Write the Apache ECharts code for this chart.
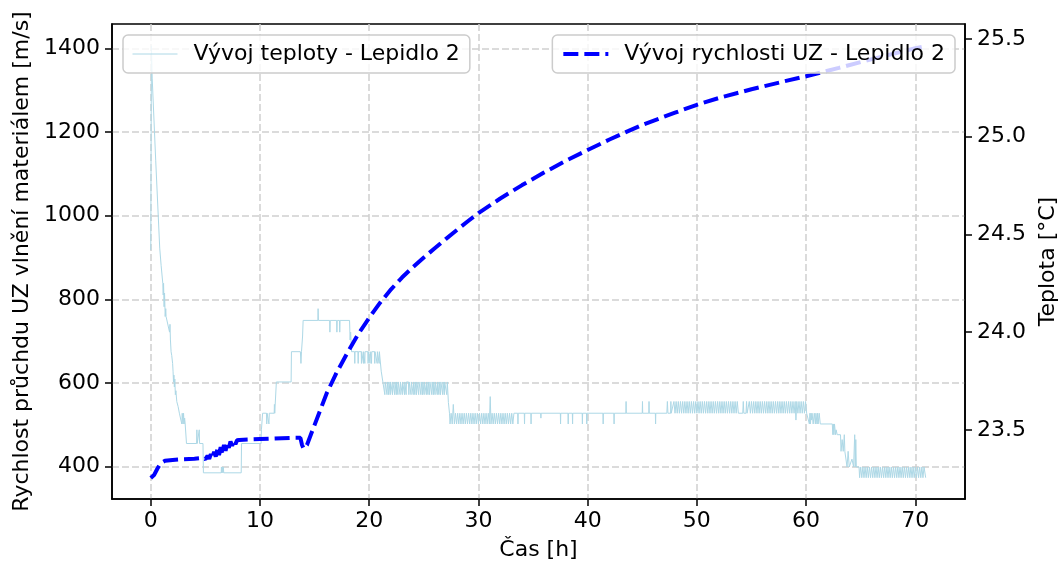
<!DOCTYPE html>
<html><head><meta charset="utf-8">
<script src="https://cdn.jsdelivr.net/npm/echarts@6/dist/echarts.min.js"></script>
<style>html,body{margin:0;padding:0;background:#fff}#c{width:1059px;height:567px}</style>
</head><body><div id="c"></div>
<script>
// ---- tick labels ----
const xTicks = [0, 10, 20, 30, 40, 50, 60, 70];
const velocityTicks = [400, 600, 800, 1000, 1200, 1400];
const temperatureTicks = [23.5, 24.0, 24.5, 25.0, 25.5];

// ---- series names ----
const temperatureName = 'Vývoj teploty - Lepidlo 2';
const velocityName = 'Vývoj rychlosti UZ - Lepidlo 2';

// ---- velocity [h, m/s] ----
const velocityData = [
[0,373],[0.3,380],[0.6,395],[0.9,408],[1.3,414],[2,416],[3,418],[4,419],[4.8,421],
[5.0,418],[5.2,426],[5.35,419],[5.5,430],[5.65,421],[5.8,436],[5.95,424],[6.1,442],[6.25,428],
[6.4,447],[6.55,432],[6.7,452],[6.85,438],[7.0,457],[7.15,445],[7.3,460],[7.45,450],[7.6,462],
[7.75,454],[7.9,463],[8.1,464],[9,465],[10,466],[11,467],[12,468],[13,469],[13.7,469],
[13.85,452],[14.0,443],[14.3,452],[15.0,500],[16.1,575],[17.0,624],[18.0,672],[19.0,717],
[20.0,756],[21.0,792],[22.0,824],[23.0,852],[24.0,877],[25.0,900],[26.0,922],[27.0,944],
[28.0,965],[29.0,986],[30.0,1006],[32.0,1041],[34.0,1073],[36.0,1103],[38.0,1131],
[40.0,1157],[42.0,1182],[45.0,1217],[48.0,1246],[50.0,1265],[52.0,1281],[55.0,1302],
[58.0,1321],[60.0,1333],[63.0,1353],[65.0,1367],[68.0,1387],[70.0,1400],[71.0,1405]
];

// ---- temperature [h, °C] ----
const temperatureData = [
[0,24.42],[0.05,24.42],[0.06,25.465],[0.13,25.30],[0.45,24.88],[0.82,24.43],[0.95,24.34],
[1.1,24.25],[1.14,24.19],[1.17,24.25],[1.22,24.13],[1.26,24.2],[1.32,24.08],[1.37,24.12],
[1.4,24.08],[1.72,24.0],[1.76,24.04],[1.8,23.96],[1.86,23.9],[1.92,23.88],[2.0,23.84],
[2.04,23.8],[2.08,23.745],[2.12,23.78],[2.16,23.72],[2.2,23.76],[2.25,23.68],[2.3,23.7],
[2.38,23.645],[2.5,23.62],[2.62,23.585],[2.8,23.585],[2.84,23.53],[2.88,23.585],[2.95,23.53],
[3.0,23.585],[3.05,23.53],[3.1,23.56],[3.15,23.53],[3.25,23.53],[3.27,23.43],
[4.2,23.43],[4.22,23.5],[4.25,23.43],[4.42,23.43],[4.44,23.5],[4.47,23.43],[4.78,23.43],
[4.82,23.28],[6.45,23.28],[6.47,23.31],[6.5,23.28],[6.55,23.31],[6.6,23.28],[6.64,23.31],
[6.68,23.28],[8.28,23.28],[8.31,23.43],
[10.1,23.43],[10.13,23.5],[10.2,23.5],[10.24,23.585],[10.6,23.585],[10.62,23.53],[10.65,23.585],
[10.8,23.585],[10.82,23.53],[10.85,23.585],[11.3,23.585],[11.32,23.63],[11.35,23.585],
[11.45,23.585],[11.5,23.745],[12.85,23.745],[12.88,23.9],[13.7,23.9],[13.75,23.84],[13.8,23.9],
[13.88,23.9],[13.9,23.98],[13.95,24.06],
[15.3,24.06],[15.32,24.12],[15.35,24.06],[16.38,24.06],[16.4,24.0],[16.43,24.06],[17.02,24.06],
[17.04,24.0],[17.07,24.06],[17.28,24.06],[17.3,24.0],[17.33,24.06],[18.2,24.06],[18.25,23.96],
[18.3,24.0],[18.38,23.9],
[18.66,23.9],[18.68,23.84],[18.7,23.9],[18.97,23.9],[18.99,23.84],[19.01,23.9],[19.27,23.9],
[19.29,23.84],[19.31,23.9],[19.45,23.9],[19.47,23.84],[19.49,23.9],[19.58,23.9],[19.6,23.84],
[19.62,23.9],[19.88,23.9],[19.9,23.84],[19.92,23.9],[20.05,23.9],[20.07,23.84],[20.09,23.9],
[20.19,23.9],[20.21,23.84],[20.23,23.9],[20.49,23.9],[20.51,23.84],[20.53,23.9],[20.71,23.9],
[20.73,23.84],[20.75,23.9],[20.89,23.9],[20.91,23.84],[20.93,23.9],[21.0,23.9],[21.1,23.8],
[21.25,23.745],
[21.4,23.745],[21.43,23.68],[21.46,23.745],[21.6,23.745],[21.63,23.68],[21.66,23.745],
[21.75,23.745],[21.78,23.68],[21.81,23.745],[21.9,23.745],[21.93,23.68],[21.96,23.745],
[22.1,23.745],[22.13,23.68],[22.16,23.745],[22.3,23.745],[22.33,23.68],[22.36,23.745],
[22.45,23.745],[22.48,23.68],[22.51,23.745],[22.6,23.745],[22.63,23.68],[22.66,23.745],
[22.8,23.745],[22.83,23.68],[22.86,23.745],[23.0,23.745],[23.03,23.68],[23.06,23.745],
[23.2,23.745],[23.23,23.68],[23.26,23.745],[23.35,23.745],[23.38,23.68],[23.41,23.745],
[23.6,23.745],[23.63,23.68],[23.66,23.745],[23.8,23.745],[23.83,23.68],[23.86,23.745],
[24.0,23.745],[24.03,23.68],[24.06,23.745],[24.15,23.745],[24.18,23.68],[24.21,23.745],
[24.3,23.745],[24.33,23.68],[24.36,23.745],[24.5,23.745],[24.53,23.68],[24.56,23.745],
[24.7,23.745],[24.73,23.68],[24.76,23.745],[24.85,23.745],[24.88,23.68],[24.91,23.745],
[25.0,23.745],[25.03,23.68],[25.06,23.745],[25.2,23.745],[25.23,23.68],[25.26,23.745],
[25.35,23.745],[25.38,23.68],[25.41,23.745],[25.5,23.745],[25.53,23.68],[25.56,23.745],
[25.7,23.745],[25.73,23.68],[25.76,23.745],[25.85,23.745],[25.88,23.68],[25.91,23.745],
[26.0,23.745],[26.03,23.68],[26.06,23.745],[26.2,23.745],[26.23,23.68],[26.26,23.745],
[26.35,23.745],[26.38,23.68],[26.41,23.745],[26.5,23.745],[26.53,23.68],[26.56,23.745],
[26.7,23.745],[26.73,23.68],[26.76,23.745],[26.85,23.745],[26.88,23.68],[26.91,23.745],
[27.0,23.745],[27.05,23.745],[27.1,23.68],[27.15,23.745],[27.25,23.64],[27.35,23.585],
[27.4,23.53],[27.5,23.585],[27.6,23.53],[27.7,23.63],[27.8,23.53],[27.9,23.585],[28.0,23.53],
[28.1,23.585],[28.2,23.53],[28.3,23.585],[28.4,23.53],[28.5,23.585],[28.6,23.53],[28.7,23.585],
[28.8,23.53],[28.9,23.585],[29.0,23.53],[29.1,23.585],[29.2,23.53],[29.3,23.585],[29.4,23.53],
[29.5,23.585],[29.6,23.53],[29.7,23.585],[29.8,23.53],[29.9,23.585],[30.0,23.53],[30.1,23.585],
[30.2,23.53],[30.3,23.585],[30.4,23.53],[30.5,23.585],[30.6,23.53],[30.7,23.585],[30.8,23.53],
[30.9,23.585],[31.0,23.53],[31.08,23.67],[31.15,23.53],[31.25,23.585],[31.35,23.53],[31.45,23.585],
[31.55,23.53],[31.65,23.585],[31.75,23.53],[31.85,23.585],[31.95,23.53],[32.05,23.585],[32.15,23.53],
[32.25,23.585],[32.35,23.53],[32.45,23.585],[32.55,23.53],[32.65,23.585],[32.75,23.53],[32.85,23.585],
[32.95,23.53],[33.05,23.585],[33.15,23.53],[33.25,23.585],
[33.6,23.585],[33.62,23.53],[33.64,23.585],[34.2,23.585],[34.22,23.53],[34.24,23.585],
[34.8,23.585],[34.82,23.53],[34.84,23.585],[35.7,23.585],[35.72,23.56],[35.74,23.585],
[37.5,23.585],[37.52,23.53],[37.54,23.585],[38.2,23.585],[38.22,23.53],[38.24,23.585],
[38.6,23.585],[38.62,23.53],[38.64,23.585],[39.5,23.585],[39.52,23.53],[39.54,23.585],
[39.9,23.585],[39.92,23.53],[39.94,23.585],[41.4,23.585],[41.42,23.53],[41.44,23.585],
[42.4,23.585],[42.42,23.53],[42.44,23.585],[43.5,23.585],[43.52,23.645],[43.54,23.585],
[45.0,23.585],[45.02,23.645],[45.04,23.585],[45.6,23.585],[45.62,23.645],[45.64,23.585],
[46.2,23.585],[46.22,23.53],[46.24,23.585],[47.25,23.585],
[47.3,23.645],[47.35,23.585],[47.6,23.585],[47.62,23.645],[47.65,23.585],[47.9,23.645],
[48.0,23.585],[48.1,23.645],[48.2,23.585],
[48.3,23.645],[48.4,23.585],[48.5,23.645],[48.6,23.585],[48.7,23.645],[48.8,23.585],[48.9,23.645],
[49.0,23.585],[49.1,23.645],[49.2,23.585],[49.3,23.645],[49.4,23.585],[49.5,23.645],[49.6,23.585],
[49.7,23.645],[49.8,23.585],[49.9,23.645],[50.0,23.585],[50.1,23.645],[50.2,23.585],[50.3,23.645],
[50.4,23.585],[50.5,23.645],[50.6,23.585],[50.7,23.645],[50.8,23.585],[50.9,23.645],[51.0,23.585],
[51.1,23.645],[51.2,23.585],[51.3,23.645],[51.4,23.585],[51.5,23.645],[51.6,23.585],[51.7,23.645],
[51.8,23.585],[51.9,23.645],[52.0,23.585],[52.1,23.645],[52.2,23.585],[52.3,23.645],[52.4,23.585],
[52.5,23.645],[52.6,23.585],[52.7,23.645],[52.8,23.585],[52.9,23.645],[53.0,23.585],[53.1,23.645],
[53.2,23.585],[53.3,23.645],[53.4,23.585],[53.5,23.645],[53.6,23.585],[53.7,23.645],
[53.8,23.585],[54.2,23.585],[54.25,23.645],[54.3,23.585],[54.5,23.585],[54.55,23.645],
[54.6,23.585],[54.8,23.645],[54.9,23.585],
[55.0,23.645],[55.1,23.585],[55.2,23.645],[55.3,23.585],[55.4,23.645],[55.5,23.585],[55.6,23.645],
[55.7,23.585],[55.8,23.645],[55.9,23.585],[56.0,23.645],[56.1,23.585],[56.2,23.645],[56.3,23.585],
[56.4,23.645],[56.5,23.585],[56.6,23.645],[56.7,23.585],[56.8,23.645],[56.9,23.585],[57.0,23.645],
[57.1,23.585],[57.2,23.645],[57.3,23.585],[57.4,23.645],[57.5,23.585],[57.6,23.645],[57.7,23.585],
[57.8,23.645],[57.9,23.585],[58.0,23.645],[58.1,23.585],[58.2,23.645],[58.3,23.585],[58.4,23.645],
[58.5,23.585],[58.6,23.645],[58.7,23.585],[58.8,23.645],[58.9,23.585],[59.0,23.645],[59.07,23.55],
[59.15,23.645],[59.25,23.585],[59.35,23.645],[59.45,23.585],[59.55,23.645],[59.65,23.585],
[59.75,23.645],[59.85,23.585],[59.95,23.645],
[60.05,23.585],[60.15,23.585],[60.3,23.53],[60.35,23.585],[60.4,23.53],[60.45,23.585],[60.5,23.55],
[60.55,23.585],[60.65,23.53],[60.75,23.585],[60.85,23.53],[60.9,23.585],[61.0,23.53],[61.05,23.585],
[61.1,23.53],[61.2,23.585],[61.3,23.53],[62.4,23.53],[62.45,23.475],[62.5,23.53],[62.55,23.475],
[62.6,23.53],[62.7,23.475],[62.75,23.5],[62.85,23.475],[63.15,23.475],[63.2,23.39],[63.3,23.45],
[63.4,23.39],[63.5,23.475],[63.55,23.39],[63.65,23.39],[63.75,23.31],[63.85,23.39],[63.95,23.31],
[64.1,23.31],[64.2,23.35],[64.35,23.31],[64.45,23.475],[64.5,23.31],[64.55,23.45],[64.6,23.31],
[64.85,23.31],[64.9,23.255],
[65.0,23.31],[65.1,23.255],[65.2,23.31],[65.3,23.255],[65.4,23.31],[65.5,23.255],[65.6,23.31],
[65.7,23.255],[65.8,23.31],[65.9,23.255],[66.0,23.31],[66.1,23.255],[66.2,23.31],[66.3,23.255],
[66.4,23.31],[66.5,23.255],[66.6,23.31],[66.7,23.255],[66.8,23.31],[66.9,23.255],[67.0,23.31],
[67.1,23.255],[67.2,23.31],[67.3,23.255],[67.4,23.31],[67.5,23.255],[67.6,23.31],[67.7,23.255],
[67.8,23.31],[67.9,23.255],[68.0,23.31],[68.1,23.255],[68.2,23.31],[68.3,23.255],[68.4,23.31],
[68.5,23.255],[68.6,23.31],[68.7,23.255],[68.8,23.31],[68.9,23.255],[69.0,23.31],[69.1,23.255],
[69.2,23.31],[69.3,23.255],[69.4,23.31],[69.5,23.255],[69.6,23.31],[69.7,23.255],[69.8,23.31],
[69.9,23.255],[70.0,23.31],[70.1,23.255],[70.2,23.31],[70.3,23.255],[70.4,23.31],[70.5,23.255],
[70.6,23.31],[70.7,23.255],[70.8,23.31],[70.95,23.255]
];

const FONT = 'DejaVu Sans';
const FS = 22;
const gridLine = { show: true, lineStyle: { color: '#d0d0d0', width: 1.5, type: [7, 3] } };
const axisLine = { show: true, onZero: false, lineStyle: { color: '#000', width: 1.6 } };
const tick = (vals) => ({ show: true, inside: false, length: 7, customValues: vals, lineStyle: { color: '#000', width: 1.5 } });
const label = (vals, fmt, m) => ({ show: true, customValues: vals, color: '#000', fontFamily: FONT, fontSize: FS, margin: m, formatter: fmt });
const legendBase = {
  orient: 'horizontal', top: 35, itemWidth: 45, itemHeight: 16, padding: [8, 10, 8, 9],
  backgroundColor: 'rgba(255,255,255,0.8)', borderColor: '#cccccc', borderWidth: 1.5, borderRadius: 5,
  itemStyle: { opacity: 0, borderWidth: 0 },
  textStyle: { fontFamily: FONT, fontSize: FS, color: '#000', padding: [0, 0, 0, 11] }
};

const chart = echarts.init(document.getElementById('c'), null, { renderer: 'canvas' });
chart.setOption({
  animation: false,
  backgroundColor: '#fff',
  textStyle: { fontFamily: FONT },
  grid: { left: 112, right: 94, top: 24, bottom: 68, containLabel: false, outerBoundsMode: 'none',
          show: true, borderColor: '#000', borderWidth: 1.6, backgroundColor: 'transparent' },
  legend: [
    Object.assign({}, legendBase, {
      data: [{ name: temperatureName, lineStyle: { color: '#add8e6', width: 1, type: 'solid' } }], left: 123 }),
    Object.assign({}, legendBase, {
      data: [{ name: velocityName, lineStyle: { color: '#0000ff', width: 4, type: [15, 6] } }], right: 104 })
  ],
  xAxis: {
    type: 'value', min: -3.55, max: 74.55,
    name: 'Čas [h]', nameLocation: 'middle', nameGap: 40,
    nameTextStyle: { fontFamily: FONT, fontSize: FS, color: '#000' },
    axisLine: axisLine, axisTick: tick(xTicks), axisLabel: label(xTicks, v => String(v), 11),
    splitLine: gridLine
  },
  yAxis: [
    { type: 'value', position: 'left', min: 322.8, max: 1458,
      name: 'Rychlost průchdu UZ vlnění materiálem [m/s]', nameLocation: 'middle', nameGap: 74, nameRotate: 90,
      nameTextStyle: { fontFamily: FONT, fontSize: FS, color: '#000' },
      axisLine: axisLine, axisTick: tick(velocityTicks), axisLabel: label(velocityTicks, v => String(v), 12),
      splitLine: gridLine },
    { type: 'value', position: 'right', min: 23.146, max: 25.577,
      name: 'Teplota [°C]', nameLocation: 'middle', nameGap: 72, nameRotate: 90,
      nameTextStyle: { fontFamily: FONT, fontSize: FS, color: '#000' },
      axisLine: axisLine, axisTick: tick(temperatureTicks), axisLabel: label(temperatureTicks, v => v.toFixed(1), 12),
      splitLine: { show: false } }
  ],
  series: [
    { name: temperatureName, type: 'line', yAxisIndex: 1, data: temperatureData,
      symbol: 'none', showSymbol: false, smooth: false,
      lineStyle: { color: '#add8e6', width: 1 }, itemStyle: { color: '#add8e6' } },
    { name: velocityName, type: 'line', yAxisIndex: 0, data: velocityData,
      symbol: 'none', showSymbol: false, smooth: false,
      lineStyle: { color: '#0000ff', width: 4, type: [15, 6] }, itemStyle: { color: '#0000ff' } }
  ]
});
</script></body></html>
